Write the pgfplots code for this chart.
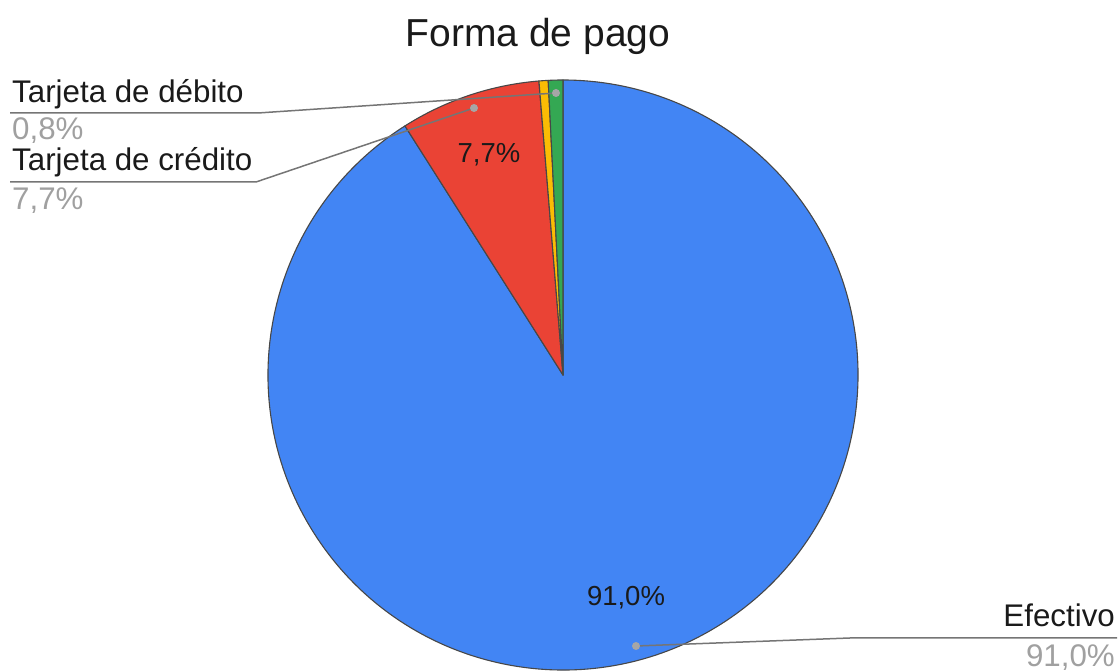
\documentclass[border=0pt]{standalone}
\usepackage{pgfplots}
\pgfplotsset{compat=1.18}
\usepackage{pgfplotstable}
\usepackage{fontspec}
\setmainfont{Liberation Sans}
\definecolor{pblue}{HTML}{4285F4}
\definecolor{pred}{HTML}{EA4335}
\definecolor{pyellow}{HTML}{FBBC04}
\definecolor{pgreen}{HTML}{34A853}
\definecolor{edge}{HTML}{474747}
\definecolor{lead}{HTML}{757575}
\definecolor{dotc}{HTML}{A6A6A6}
\definecolor{greytxt}{HTML}{A0A0A0}
\definecolor{txt}{HTML}{1A1A1A}
% values (percent), clockwise from 12 o'clock
\def\vEf{91.0}
\def\vCr{7.7}
\def\vOt{0.5}
\def\vDe{0.8}
\pgfmathsetmacro\aGreenEnd{90+3.6*\vDe}
\pgfmathsetmacro\aYellowEnd{\aGreenEnd+3.6*\vOt}
\pgfmathsetmacro\aRedEnd{\aYellowEnd+3.6*\vCr}
\pgfmathsetmacro\aBlueEnd{\aRedEnd+3.6*\vEf}
\begin{document}
\begin{tikzpicture}
\begin{axis}[x=1pt,y=1pt,xmin=0,xmax=1120,ymin=0,ymax=671,hide axis,clip=false,
  scale only axis]
\coordinate (ll) at (axis cs:0,0);
\coordinate (ur) at (axis cs:1120,671);
\def\cx{563}\def\cy{296}\def\R{295pt}
\filldraw[fill=pblue,draw=edge,line width=1.1pt,line join=round] (axis cs:\cx,\cy) -- ++(\aRedEnd:\R) arc[start angle=\aRedEnd,end angle=\aBlueEnd,radius=\R] -- cycle;
\filldraw[fill=pred,draw=edge,line width=1.1pt,line join=round] (axis cs:\cx,\cy) -- ++(\aYellowEnd:\R) arc[start angle=\aYellowEnd,end angle=\aRedEnd,radius=\R] -- cycle;
\filldraw[fill=pyellow,draw=edge,line width=1.1pt,line join=round] (axis cs:\cx,\cy) -- ++(\aGreenEnd:\R) arc[start angle=\aGreenEnd,end angle=\aYellowEnd,radius=\R] -- cycle;
\filldraw[fill=pgreen,draw=edge,line width=1.1pt,line join=round] (axis cs:\cx,\cy) -- ++(90:\R) arc[start angle=90,end angle=\aGreenEnd,radius=\R] -- cycle;
% title
\node[anchor=base,inner sep=0pt,text=txt,font=\fontsize{39}{45}\selectfont] at (axis cs:538,624) {Forma de pago};
% inner labels
\node[anchor=base,inner sep=0pt,text=txt,font=\fontsize{27.5}{32}\selectfont] at (axis cs:489,508) {7,7\%};
\node[anchor=base,inner sep=0pt,text=txt,font=\fontsize{27.5}{32}\selectfont] at (axis cs:626,65) {91,0\%};
% leader lines
\draw[lead,line width=1.5pt] (axis cs:10,558) -- (axis cs:258,558) -- (axis cs:556,578);
\draw[lead,line width=1.5pt] (axis cs:10,489) -- (axis cs:256,489) -- (axis cs:474,563);
\draw[lead,line width=1.5pt] (axis cs:1117,33) -- (axis cs:850,33) -- (axis cs:636,25);
\fill[dotc] (axis cs:556,578) circle[radius=4pt];
\fill[dotc] (axis cs:474,563) circle[radius=4pt];
\fill[dotc] (axis cs:636,25) circle[radius=4pt];
% outside labels
\node[anchor=base west,inner sep=0pt,text=txt,font=\fontsize{31.3}{36}\selectfont] at (axis cs:12,568) {Tarjeta de débito};
\node[anchor=base west,inner sep=0pt,text=greytxt,font=\fontsize{31.3}{36}\selectfont] at (axis cs:12,531) {0,8\%};
\node[anchor=base west,inner sep=0pt,text=txt,font=\fontsize{31.3}{36}\selectfont] at (axis cs:12,500) {Tarjeta de crédito};
\node[anchor=base west,inner sep=0pt,text=greytxt,font=\fontsize{31.3}{36}\selectfont] at (axis cs:12,461) {7,7\%};
\node[anchor=base east,inner sep=0pt,text=txt,font=\fontsize{31.3}{36}\selectfont] at (axis cs:1115,44) {Efectivo};
\node[anchor=base east,inner sep=0pt,text=greytxt,font=\fontsize{31.3}{36}\selectfont] at (axis cs:1115,4) {91,0\%};
\end{axis}
\pgfresetboundingbox
\path[use as bounding box] (ll) rectangle (ur);
\end{tikzpicture}
\end{document}
